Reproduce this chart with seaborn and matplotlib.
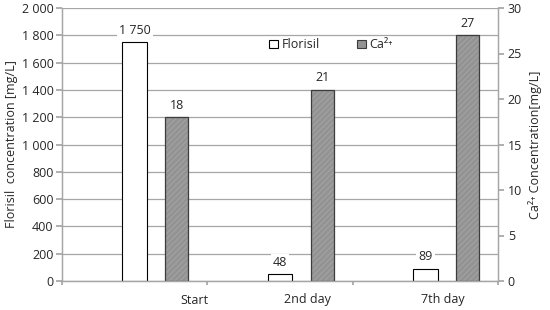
import pandas as pd
import seaborn as sns
import matplotlib.pyplot as plt
from matplotlib.colors import to_rgba
from matplotlib.patches import Patch
from matplotlib.ticker import FuncFormatter, FixedLocator

days = ['Start', '2nd day', '7th day']
florisil = [1750, 48, 89]   # mg/L, left axis
calcium = [18, 21, 27]      # mg/L, right axis

sns.set_theme(style='white')
plt.rcParams['font.family'] = ['Open Sans', 'DejaVu Sans']
plt.rcParams['hatch.linewidth'] = 0.7

df = pd.DataFrame({'day': days, 'florisil': florisil, 'calcium': calcium})

grid_col = '#a6a6a6'
ca_fill = '#939393'
fs = 9
fig = plt.figure(figsize=(5.5, 3.1), dpi=100)
ax = fig.add_axes([62 / 550, 29 / 310, 436 / 550, 273 / 310])
ax2 = ax.twinx()

sns.barplot(data=df, x='day', y='florisil', ax=ax, width=0.17,
            color='white', edgecolor='black', linewidth=0.8, saturation=1)
sns.barplot(data=df, x='day', y='calcium', ax=ax2, width=0.16,
            color=ca_fill, edgecolor='#3c3c3c', linewidth=0.9, saturation=1)

# Ca bars sit to the right of the category centre, with faint stripes
for p in ax2.patches:
    p.set_x(p.get_x() + 0.29)
    p.set_hatch('//////')
    p._hatch_color = to_rgba('#a4a4a4')

ax.set_xlim(-0.5, 2.5)
ax.set_ylim(0, 2000)
ax2.set_ylim(0, 30)
ax.set_yticks(range(0, 2001, 200))
ax2.set_yticks(range(0, 31, 5))
ax.yaxis.set_major_formatter(FuncFormatter(lambda v, _: f'{int(v):,}'.replace(',', ' ')))

ax.grid(axis='y', color=grid_col, linewidth=0.9)
ax.set_axisbelow(True)
ax2.grid(False)

# category boundaries as tick marks, labels placed separately
ax.xaxis.set_major_locator(FixedLocator([-0.5, 0.5, 1.5, 2.5]))
ax.set_xticklabels([])
ax.xaxis.set_minor_locator(FixedLocator([0.41, 1.19, 2.12]))
ax.set_xticklabels(days, minor=True, fontsize=fs)
ax.tick_params(axis='x', which='major', length=3, color=grid_col, bottom=True, direction='out')
ax.tick_params(axis='x', which='minor', length=0, pad=9)
ax.tick_params(axis='y', length=4, color=grid_col, left=True, labelsize=fs, pad=2, direction='out')
ax2.tick_params(axis='y', length=4, color=grid_col, right=True, labelsize=fs, pad=3, direction='out')

for a in (ax, ax2):
    a.spines['top'].set_visible(False)
    for s in ('left', 'right', 'bottom'):
        a.spines[s].set_color(grid_col)
        a.spines[s].set_linewidth(0.9)

ax.set_xlabel('')
ax.set_ylabel('Florisil  concentration [mg/L]', fontsize=fs, labelpad=3)
ax2.set_ylabel('Ca²⁺ Concentration[mg/L]', fontsize=fs, labelpad=4)

bb = dict(facecolor='white', edgecolor='none', pad=1.5)
for t in ax.bar_label(ax.containers[0],
                      labels=[f'{v:,}'.replace(',', ' ') for v in florisil],
                      padding=4, fontsize=fs):
    t.set_bbox(bb)
for t in ax2.bar_label(ax2.containers[0], labels=[str(v) for v in calcium],
                       padding=4, fontsize=fs):
    t.set_bbox(bb)

handles = [Patch(facecolor='white', edgecolor='black', linewidth=0.8, label='Florisil'),
           Patch(facecolor=ca_fill, edgecolor='#3c3c3c', linewidth=0.8, label='Ca²⁺')]
ax2.legend(handles=handles, loc='center', bbox_to_anchor=(0.617, 0.865), ncol=2,
           frameon=False, fontsize=fs, handlelength=0.7, handleheight=0.7,
           handletextpad=0.3, columnspacing=3.0)

fig.savefig('out.png', dpi=100)
